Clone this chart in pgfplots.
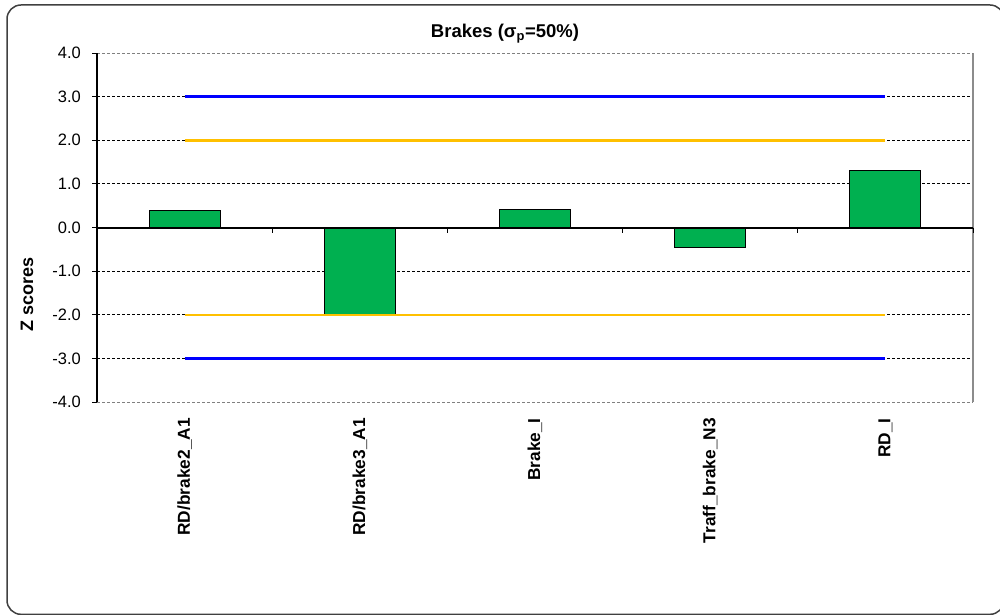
\documentclass[border=0pt]{standalone}
\usepackage{pgfplots}
\pgfplotsset{compat=1.18}
\usepackage{fontspec}
\setmainfont{Liberation Sans}
\definecolor{barg}{RGB}{0,176,80}
\definecolor{gold}{RGB}{255,192,0}
\definecolor{pureblue}{RGB}{0,0,255}
\begin{document}
\begin{tikzpicture}[x=1pt,y=1pt]
\useasboundingbox (0,0) rectangle (1000,614);
\draw[line width=1.5pt, color=black!75, rounded corners=14pt] (7,-0.3) rectangle (1004,609);
\begin{axis}[
  at={(97pt,212pt)}, anchor=south west,
  scale only axis, width=876pt, height=349pt,
  xmin=-0.5, xmax=4.5, ymin=-4, ymax=4,
  axis line style={draw=none},
  xtick={0,1,2,3,4},
  xticklabels={RD/brake2\_A1, RD/brake3\_A1, Brake\_I, Traff\_brake\_N3, RD\_I},
  xticklabel style={yshift=-11pt, rotate=90, anchor=east, font=\bfseries\fontsize{17.3}{20}\selectfont, inner sep=0pt},
  major x tick style={draw=none},
  ytick={-4,-3,...,4},
  ytick pos=left,
  tick align=outside,
  major tick length=5pt,
  major y tick style={black, line width=1pt},
  yticklabel style={font=\fontsize{16.5}{20}\selectfont, inner sep=0pt, xshift=-11pt},
  /pgf/number format/.cd, fixed, fixed zerofill, precision=1, assume math mode=true, /pgfplots/.cd,
  ymajorgrids,
  grid style={black, line width=0.8pt, dash pattern=on 3pt off 2pt},
  clip=false,
]
\addplot[ybar, bar width=71pt, fill=barg, draw=black, line width=1pt] coordinates {(0,0.38) (1,-2.0) (2,0.42) (3,-0.46) (4,1.3)};
\addplot[pureblue, line width=2.5pt] coordinates {(0,3) (4,3)};
\addplot[pureblue, line width=2.5pt] coordinates {(0,-3) (4,-3)};
\addplot[gold, line width=2.5pt] coordinates {(0,2) (4,2)};
\addplot[gold, line width=2.5pt] coordinates {(0,-2) (4,-2)};
\draw[black!45, line width=1.2pt] (axis cs:4.5,-4) -- (axis cs:4.5,4);
\draw[black!50, line width=1pt, dash pattern=on 3pt off 2pt] (axis cs:-0.5,-4) -- (axis cs:4.5,-4);
\draw[black!50, line width=1pt, dash pattern=on 3pt off 2pt] (axis cs:-0.5,4) -- (axis cs:4.5,4);
\draw[black, line width=2pt] (axis cs:-0.5,-4) -- (axis cs:-0.5,4);
\draw[black, line width=2pt] (axis cs:-0.5,0) -- (axis cs:4.5,0);
\draw[black, line width=1pt] (axis cs:0.5,0) -- ([yshift=-5pt]axis cs:0.5,0);
\draw[black, line width=1pt] (axis cs:1.5,0) -- ([yshift=-5pt]axis cs:1.5,0);
\draw[black, line width=1pt] (axis cs:2.5,0) -- ([yshift=-5pt]axis cs:2.5,0);
\draw[black, line width=1pt] (axis cs:3.5,0) -- ([yshift=-5pt]axis cs:3.5,0);
\draw[black, line width=1pt] (axis cs:4.5,0) -- ([yshift=-5pt]axis cs:4.5,0);
\end{axis}
\node[anchor=base, font=\bfseries\fontsize{18.5}{22}\selectfont] at (505,576) {Brakes (σ\textsubscript{p}=50\%)};
\node[rotate=90, font=\bfseries\fontsize{18}{22}\selectfont] at (27,320) {Z scores};
\end{tikzpicture}
\end{document}
